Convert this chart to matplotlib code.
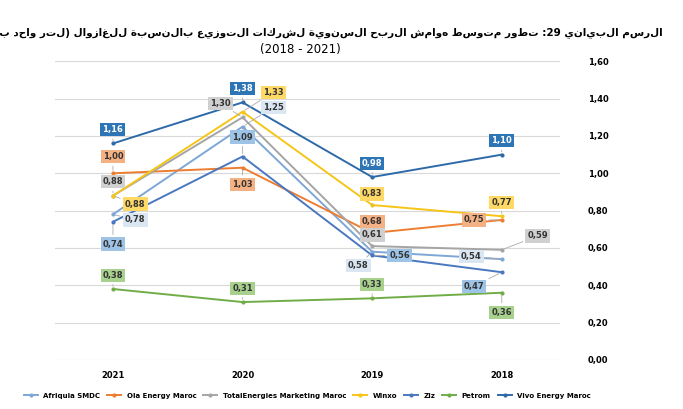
import re
import matplotlib.pyplot as plt

years = ["2021", "2020", "2019", "2018"]
series_names = ["Afriquia SMDC", "Ola Energy Maroc", "TotalEnergies Marketing Maroc",
                "Winxo", "Ziz", "Petrom", "Vivo Energy Maroc"]
afriquia = [0.78, 1.25, 0.58, 0.54]
ola = [1.00, 1.03, 0.68, 0.75]
total = [0.88, 1.30, 0.61, 0.59]
winxo = [0.88, 1.33, 0.83, 0.77]
ziz = [0.74, 1.09, 0.56, 0.47]
petrom = [0.38, 0.31, 0.33, 0.36]
vivo = [1.16, 1.38, 0.98, 1.10]

colors = ["#7fa7d6", "#ed7d31", "#a5a5a5", "#f5c518", "#4a78c0", "#70ad47", "#2e6aa8"]
label_bg = ["#dbe6f3", "#f4b183", "#d0d0d0", "#ffd966", "#9dc3e6", "#a9d18e", "#2e75b6"]
# label offsets (points) per series per year
offsets = [
    [(16, -4), (22, 14), (-10, -10), (-22, 2)],
    [(0, 12), (0, -12), (0, 8), (-20, 0)],
    [(0, 10), (-16, 10), (0, 8), (26, 10)],
    [(16, -6), (22, 14), (0, 8), (0, 10)],
    [(0, -16), (0, 14), (20, 0), (-20, -10)],
    [(0, 10), (0, 10), (0, 10), (0, -14)],
    [(0, 10), (0, 10), (0, 10), (0, 10)],
]
data = [afriquia, ola, total, winxo, ziz, petrom, vivo]


def vis(s):
    # crude right-to-left display order, keeping digit runs intact
    parts = re.findall(r"\d+|\D", s)
    out = []
    for p in reversed(parts):
        out.append({"(": ")", ")": "("}.get(p, p))
    return "".join(out)


title1 = "الرسم البياني 29: تطور متوسط هوامش الربح السنوية لشركات التوزيع بالنسبة للغازوال (لتر واحد بالدرهم)"
title2 = "(2018 - 2021)"

fig = plt.figure(figsize=(6.83, 4.09), dpi=100)
ax = fig.add_axes([0.08, 0.12, 0.74, 0.73])
x = list(range(len(years)))
for i, (name, vals) in enumerate(zip(series_names, data)):
    ax.plot(x, vals, color=colors[i], lw=1.4, marker="o", ms=2, label=name)
    for j, v in enumerate(vals):
        dx, dy = offsets[i][j]
        txt = f"{v:.2f}".replace(".", ",")
        tc = "white" if i == 6 else "#333333"
        ax.annotate(txt, (j, v), xytext=(dx, dy), textcoords="offset points",
                    ha="center", va="center", fontsize=6, fontweight="bold", color=tc,
                    bbox=dict(boxstyle="square,pad=0.25", fc=label_bg[i], ec="none"),
                    arrowprops=dict(arrowstyle="-", color="#aaaaaa", lw=0.6))

ax.set_xlim(-0.45, 3.45)
ax.set_ylim(0, 1.6)
ax.set_xticks(x)
ax.set_xticklabels(years, fontsize=6, fontweight="bold")
ax.set_yticks([i * 0.2 for i in range(9)])
ax.set_yticklabels([f"{i * 0.2:.2f}".replace(".", ",") for i in range(9)], fontsize=6, fontweight="bold")
ax.yaxis.tick_right()
ax.tick_params(axis="y", length=0, pad=20)
ax.tick_params(axis="x", length=0, pad=8)
ax.grid(axis="y", color="#d9d9d9", lw=0.8)
for s in ax.spines.values():
    s.set_visible(False)

fig.text(0.97, 0.915, vis(title1), ha="right", fontsize=7.5, fontweight="bold")
fig.text(0.44, 0.87, title2, ha="center", fontsize=8.5)
fig.legend(loc="lower center", bbox_to_anchor=(0.45, 0.01), ncol=7,
           frameon=False, handlelength=2, columnspacing=1.0,
           prop={"weight": "bold", "size": 5})
fig.savefig("out.png", dpi=100)
